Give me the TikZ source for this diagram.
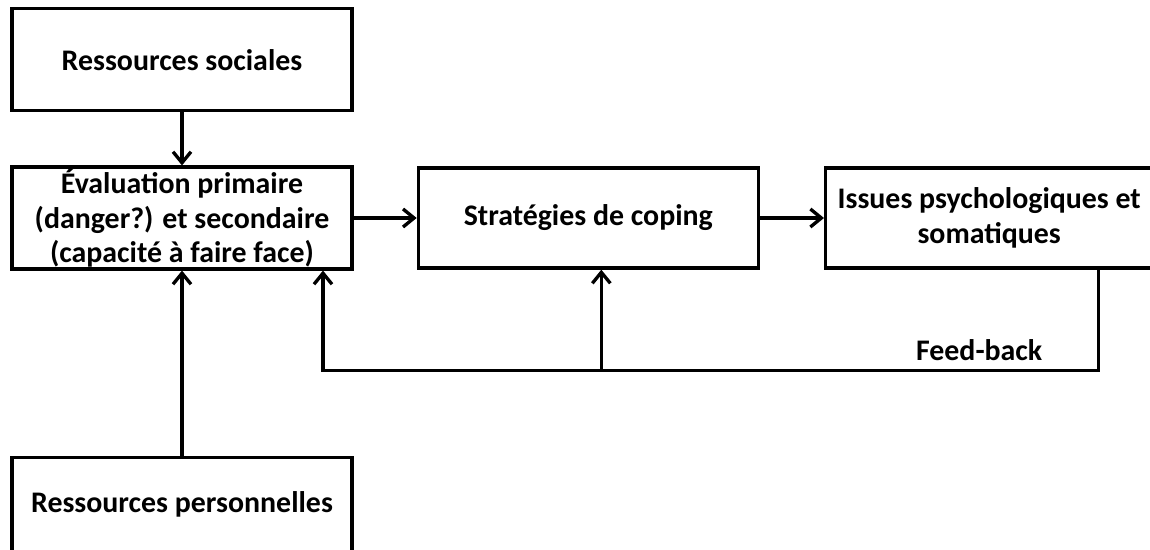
\documentclass[tikz,border=0pt]{standalone}
\usepackage{fontspec}
\setmainfont{Carlito}
\usetikzlibrary{positioning,arrows.meta}

\begin{document}
\begin{tikzpicture}[node distance=1.26cm, >={Straight Barb[length=2.2mm,width=3.6mm]}]
 \tikzstyle{every node}=[font=\fontsize{17}{19.5}\selectfont\bfseries]
 \tikzstyle{bloc}=[draw, line width=1.9pt, minimum width=6.8cm, minimum height=2cm, align=center, inner sep=1pt]
 \tikzstyle{fleche}=[->, line width=1.9pt]
 \useasboundingbox (-3.64,4.36) rectangle (19.36,-6.64);
 \node[bloc] 	(eval)	at (0,0) {\'Evaluation primaire\\(danger?) et secondaire\\(capacit\'e \`a faire face)};
 \node[bloc] 	(strat)	[right=of eval] {Strat\'egies de coping};
 \node[bloc, minimum width=6.54cm]	(issues)	[right=1.28cm of strat] {Issues psychologiques et\\somatiques};
 \node[bloc, minimum height=2.04cm]	(soc)	[above=1.06cm of eval] {Ressources sociales};
 \node[bloc, minimum height=1.9cm]	(perso)	[below=3.7cm of eval] {Ressources personnelles};

 \coordinate (fbtop) at ([xshift=2.18cm]issues.south);
 \coordinate (fbcorner) at ([yshift=-2.02cm]fbtop);
 \coordinate (evalin) at ([xshift=2.82cm]eval.south);
 \coordinate (stratin) at ([xshift=0.26cm]strat.south);
 \node (fblabel) at ([xshift=-2.38cm, yshift=0.42cm]fbcorner) {Feed-back};

 \draw[fleche](soc) to (eval);
 \draw[fleche](perso) to (eval);
 \draw[fleche](eval) to (strat);
 \draw[fleche](strat) to (issues);
 \draw[fleche](fbtop) -- (fbcorner) -| (evalin);
 \draw[fleche](stratin |- fbcorner) -- (stratin);
\end{tikzpicture}
\end{document}
